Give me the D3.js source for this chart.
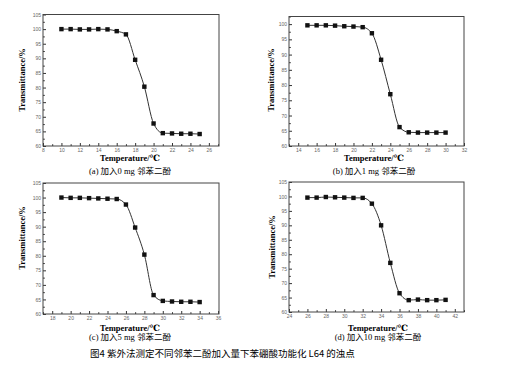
<!DOCTYPE html>
<html>
<head>
<meta charset="utf-8">
<script src="https://cdn.jsdelivr.net/npm/d3@7"></script>
<style>
  body { margin: 0; background: #fff; }
  svg { display: block; font-family: "Liberation Serif", "DejaVu Serif", serif; }
  .tick text { fill: #666; font-size: 5px; }
  .tick line { stroke: #333; }
</style>
</head>
<body>
<svg></svg>
<script>
// temperatures (°C) and transmittance (%) for each sample
const tempsA = [10, 11, 12, 13, 14, 15, 16, 17, 18, 19, 20, 21, 22, 23, 24, 25];
const transA = [100, 100, 99.9, 99.9, 100, 99.9, 99.3, 98.2, 89.5, 80.3, 67.7, 64.4, 64.3, 64.2, 64.2, 64.1];

const tempsB = [15, 16, 17, 18, 19, 20, 21, 22, 23, 24, 25, 26, 27, 28, 29, 30];
const transB = [99.6, 99.6, 99.6, 99.5, 99.3, 99.2, 99.0, 97.0, 88.3, 77.0, 66.2, 64.5, 64.4, 64.4, 64.4, 64.4];

const tempsC = [19, 20, 21, 22, 23, 24, 25, 26, 27, 28, 29, 30, 31, 32, 33, 34];
const transC = [100, 99.9, 99.9, 99.8, 99.7, 99.6, 99.5, 97.6, 89.7, 80.4, 66.5, 64.5, 64.3, 64.2, 64.2, 64.1];

const tempsD = [26, 27, 28, 29, 30, 31, 32, 33, 34, 35, 36, 37, 38, 39, 40, 41];
const transD = [99.6, 99.6, 99.8, 99.7, 99.6, 99.5, 99.5, 97.5, 90.0, 77.0, 66.5, 64.1, 64.3, 64.1, 64.1, 64.2];

const subtitles = ['(a) 加入0 mg 邻苯二酚', '(b) 加入1 mg 邻苯二酚', '(c) 加入5 mg 邻苯二酚', '(d) 加入10 mg 邻苯二酚'];
const xTitle = 'Temperature/℃';
const yTitle = 'Transmittance/%';
const caption = '图4  紫外法测定不同邻苯二酚加入量下苯硼酸功能化 L64 的浊点';

const [width, height] = [513, 367];

const svg = d3.select('svg')
  .attr('width', width)
  .attr('height', height);

const panels = [
  {temps: tempsA, trans: transA, xdom: [8, 27.1], ydom: [60, 105], box: [43, 14.5, 219, 146], xt: 161, st: 174, yt: [23, 80], cx: 130},
  {temps: tempsB, trans: transB, xdom: [13, 32], ydom: [60, 102.5], box: [289, 16.5, 464, 146], xt: 161, st: 174, yt: [272, 80], cx: 374},
  {temps: tempsC, trans: transC, xdom: [17, 36.1], ydom: [60, 105], box: [43, 183, 219, 314], xt: 331, st: 340, yt: [23, 238], cx: 130},
  {temps: tempsD, trans: transD, xdom: [24, 43], ydom: [60, 105], box: [289, 182, 464, 312], xt: 331, st: 340, yt: [273, 247], cx: 378},
];

panels.forEach((p, i) => {
  const [x0, y0, x1, y1] = p.box;
  const data = p.temps.map((t, j) => ({t, v: p.trans[j]}));

  const x = d3.scaleLinear().domain(p.xdom).range([x0, x1]);
  const y = d3.scaleLinear().domain(p.ydom).range([y1, y0]);

  const g = svg.append('g');

  // minor ticks
  const xMinor = d3.range(Math.ceil(p.xdom[0]), p.xdom[1] + 0.01, 1).filter(v => v % 2 !== 0);
  const yMinor = d3.range(62.5, p.ydom[1] + 0.01, 5);

  g.append('g')
    .attr('transform', `translate(0,${y1})`)
    .call(d3.axisBottom(x).tickValues(xMinor).tickSize(-1.8).tickFormat(''))
    .call(s => s.select('.domain').remove());
  g.append('g')
    .attr('transform', `translate(${x0},0)`)
    .call(d3.axisLeft(y).tickValues(yMinor).tickSize(-1.8).tickFormat(''))
    .call(s => s.select('.domain').remove());

  // major ticks
  const xMajor = d3.range(Math.ceil(p.xdom[0] / 2) * 2, p.xdom[1] + 0.01, 2);
  const yMajor = d3.range(60, p.ydom[1] + 0.01, 5);

  g.append('g')
    .attr('transform', `translate(0,${y1})`)
    .call(d3.axisBottom(x).tickValues(xMajor).tickSize(-3).tickPadding(2.5))
    .call(s => s.select('.domain').remove());
  g.append('g')
    .attr('transform', `translate(${x0},0)`)
    .call(d3.axisLeft(y).tickValues(yMajor).tickSize(-3).tickPadding(2))
    .call(s => s.select('.domain').remove());

  g.append('rect')
    .attr('x', x0).attr('y', y0)
    .attr('width', x1 - x0).attr('height', y1 - y0)
    .attr('fill', 'none')
    .attr('stroke', '#444')
    .attr('stroke-width', 1);

  const line = d3.line()
    .curve(d3.curveMonotoneX)
    .x(d => x(d.t))
    .y(d => y(d.v));

  g.append('path')
    .datum(data)
    .attr('d', line)
    .attr('fill', 'none')
    .attr('stroke', '#333')
    .attr('stroke-width', 1);

  g.selectAll('rect.pt')
    .data(data)
    .join('rect')
    .classed('pt', true)
    .attr('x', d => x(d.t) - 2.2)
    .attr('y', d => y(d.v) - 2.2)
    .attr('width', 4.4)
    .attr('height', 4.4)
    .attr('fill', '#111');

  g.append('text')
    .attr('x', p.cx)
    .attr('y', p.xt)
    .attr('text-anchor', 'middle')
    .attr('font-size', 8.5)
    .attr('font-weight', 'bold')
    .text(xTitle);

  g.append('text')
    .attr('transform', `translate(${p.yt[0]},${p.yt[1]}) rotate(-90)`)
    .attr('text-anchor', 'middle')
    .attr('dominant-baseline', 'middle')
    .attr('font-size', 8.5)
    .attr('font-weight', 'bold')
    .text(yTitle);

  g.append('text')
    .attr('x', p.cx)
    .attr('y', p.st)
    .attr('text-anchor', 'middle')
    .attr('font-size', 8.5)
    .attr('font-family', '"Liberation Serif", "Noto Sans CJK SC", serif')
    .text(subtitles[i]);
});

svg.append('text')
  .attr('x', 90)
  .attr('y', 357)
  .attr('font-size', 9.5)
  .attr('font-family', '"Noto Sans CJK SC", sans-serif')
  .text(caption);
</script>
</body>
</html>
